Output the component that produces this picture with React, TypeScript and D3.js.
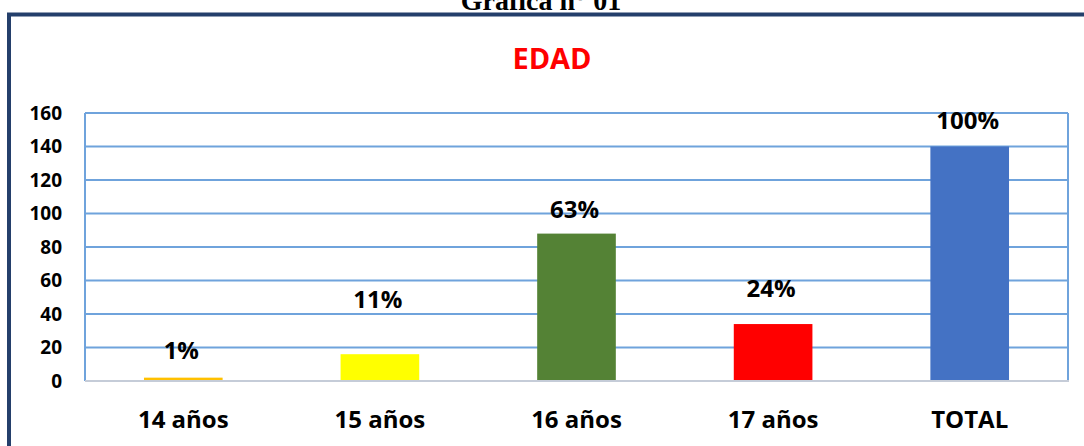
import React from "react";
import * as d3 from "d3";

// chart data
const categories = ["14 años", "15 años", "16 años", "17 años", "TOTAL"];
const values = [2, 16, 88, 34, 140];
const percentLabels = ["1%", "11%", "63%", "24%", "100%"];
const barColors = ["#FFC000", "#FFFF00", "#548235", "#FF0000", "#4472C4"];
const yTicks = [0, 20, 40, 60, 80, 100, 120, 140, 160];

// labels were placed by hand in the original, so each sits a bit differently
const LABEL_GAP = [19, 46, 16, 27, 18];

const WIDTH = 1084;
const HEIGHT = 446;
const PLOT = { left: 85, right: 1068, top: 113, bottom: 381 };
const FONT = "'Open Sans', Lato, sans-serif";

export default function App() {
  const xScale = d3
    .scaleBand<string>()
    .domain(categories)
    .range([PLOT.left, PLOT.right])
    .padding(0);
  const yScale = d3
    .scaleLinear()
    .domain([0, 160])
    .range([PLOT.bottom, PLOT.top]);

  const barWidth = xScale.bandwidth() * 0.4;

  return (
    <svg
      width={WIDTH}
      height={HEIGHT}
      style={{ position: "absolute", left: 0, top: 0, background: "#fff" }}
    >
      {/* caption above the frame, cropped in the source image */}
      <text
        x={541}
        y={10}
        textAnchor="middle"
        fontFamily="'Liberation Serif', 'Times New Roman', serif"
        fontWeight="bold"
        fontSize={28}
        fill="#000"
      >
        Grafica n° 01
      </text>

      {/* frame */}
      <path
        d={`M9,${HEIGHT} V14.5 H${WIDTH}`}
        fill="none"
        stroke="#243F6B"
        strokeWidth={4}
      />

      <text
        x={552}
        y={69}
        textAnchor="middle"
        fontFamily={FONT}
        fontWeight="bold"
        fontSize={29}
        fill="#FF0000"
      >
        EDAD
      </text>

      {/* gridlines */}
      {yTicks.filter((t) => t > 0).map((t) => (
        <line
          key={t}
          x1={PLOT.left}
          x2={PLOT.right}
          y1={yScale(t)}
          y2={yScale(t)}
          stroke="#6FA3DC"
          strokeWidth={2}
        />
      ))}
      <line x1={PLOT.left} x2={PLOT.left} y1={PLOT.top} y2={PLOT.bottom} stroke="#6FA3DC" strokeWidth={2} />
      <line x1={PLOT.right} x2={PLOT.right} y1={PLOT.top} y2={PLOT.bottom} stroke="#6FA3DC" strokeWidth={2} />

      {/* y tick labels */}
      {yTicks.map((t) => (
        <text
          key={t}
          x={62}
          y={yScale(t)}
          dy="0.36em"
          textAnchor="end"
          fontFamily={FONT}
          fontWeight="bold"
          fontSize={19}
          fill="#000"
        >
          {t}
        </text>
      ))}

      {/* bars */}
      {categories.map((c, i) => {
        const cx = (xScale(c) ?? 0) + xScale.bandwidth() / 2;
        return (
          <rect
            key={c}
            x={cx - barWidth / 2}
            y={yScale(values[i])}
            width={barWidth}
            height={yScale(0) - yScale(values[i])}
            fill={barColors[i]}
          />
        );
      })}

      {/* x axis line */}
      <line
        x1={PLOT.left}
        x2={PLOT.right + 1}
        y1={PLOT.bottom}
        y2={PLOT.bottom}
        stroke="#C5CCD8"
        strokeWidth={2}
      />

      {/* value labels */}
      {categories.map((c, i) => {
        const cx = (xScale(c) ?? 0) + xScale.bandwidth() / 2;
        return (
          <text
            key={c}
            x={cx - 2}
            y={yScale(values[i]) - LABEL_GAP[i]}
            textAnchor="middle"
            fontFamily={FONT}
            fontWeight="bold"
            fontSize={24}
            fill="#000"
          >
            {percentLabels[i]}
          </text>
        );
      })}

      {/* category labels */}
      {categories.map((c) => {
        const cx = (xScale(c) ?? 0) + xScale.bandwidth() / 2;
        return (
          <text
            key={c}
            x={cx}
            y={428}
            textAnchor="middle"
            fontFamily={FONT}
            fontWeight="bold"
            fontSize={24}
            fill="#000"
          >
            {c}
          </text>
        );
      })}
    </svg>
  );
}
